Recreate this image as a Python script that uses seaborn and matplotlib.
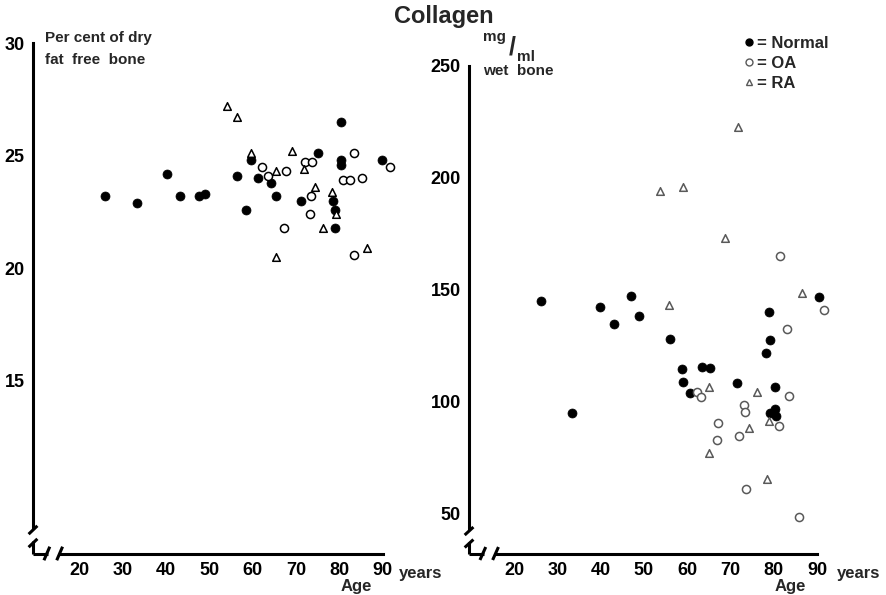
import numpy as np
import pandas as pd
import seaborn as sns
import matplotlib.pyplot as plt
from matplotlib.lines import Line2D

sns.set_style("white")
plt.rcParams['font.family'] = ['Liberation Sans', 'DejaVu Sans']
plt.rcParams['font.weight'] = 'bold'

# left panel - per cent of dry fat free bone
normal_age_l = [26, 33.4, 40.3, 43.3, 47.7, 49.0, 56.4, 58.5, 59.6, 61.2, 64.2,
                65.4, 71.2, 75.1, 78.5, 79.0, 79.0, 80.4, 80.4, 80.4, 89.8]
normal_val_l = [23.2, 22.9, 24.2, 23.2, 23.2, 23.3, 24.1, 22.6, 24.8, 24.0, 23.8,
                23.2, 23.0, 25.1, 23.0, 22.6, 21.8, 26.5, 24.8, 24.6, 24.8]
oa_age_l = [62.2, 63.5, 67.7, 67.2, 72.1, 73.7, 73.5, 73.2, 80.8, 82.4, 85.2, 83.4, 91.7, 83.4]
oa_val_l = [24.5, 24.1, 24.3, 21.8, 24.7, 24.7, 23.2, 22.4, 23.9, 23.9, 24.0, 25.1, 24.5, 20.6]
ra_age_l = [54.1, 56.4, 59.6, 65.4, 69.1, 71.8, 74.4, 78.3, 79.2, 76.2, 65.4, 86.4]
ra_val_l = [27.2, 26.7, 25.1, 24.3, 25.2, 24.4, 23.6, 23.4, 22.4, 21.8, 20.5, 20.9]

# right panel - mg/ml wet bone
normal_age_r = [26.2, 33.4, 39.9, 43.1, 47.0, 48.9, 56.0, 58.8, 59.0, 60.6, 63.4,
                65.3, 71.5, 78.2, 78.9, 79.1, 79.1, 80.3, 80.3, 80.5, 90.4]
normal_val_r = [145, 95, 142.5, 135, 147.5, 138.5, 128, 114.5, 109, 104, 115.5,
                115, 108.5, 122, 140, 127.5, 95, 106.5, 97, 93.5, 147]
oa_age_r = [62.3, 63.2, 73.1, 73.3, 67.1, 66.9, 72.0, 81.2, 83.5, 83.0, 91.6, 73.6, 81.4, 85.8]
oa_val_r = [104.5, 102.2, 98.7, 95.5, 90.6, 83.0, 84.8, 89.3, 102.7, 132.6, 141.1, 61.2, 165.2, 48.7]
ra_age_r = [71.7, 53.7, 59.0, 68.7, 55.8, 86.5, 65.0, 76.1, 74.3, 65.0, 78.4, 78.9]
ra_val_r = [222.8, 194.2, 196.0, 173.2, 143.3, 148.7, 106.7, 104.5, 88.4, 77.2, 65.6, 91.5]

x_ticks = [20, 30, 40, 50, 60, 70, 80, 90]
y_ticks_l = [15, 20, 25, 30]
y_ticks_r = [50, 100, 150, 200, 250]


def make_df(na, nv, oa, ov, ra, rv):
    rows = []
    for g, a, v in [("Normal", na, nv), ("OA", oa, ov), ("RA", ra, rv)]:
        for ai, vi in zip(a, v):
            rows.append({"Age": ai, "Value": vi, "Group": g})
    return pd.DataFrame(rows)


left = make_df(normal_age_l, normal_val_l, oa_age_l, oa_val_l, ra_age_l, ra_val_l)
right = make_df(normal_age_r, normal_val_r, oa_age_r, oa_val_r, ra_age_r, ra_val_r)

fig = plt.figure(figsize=(8.87, 5.95), dpi=100)
ax1 = fig.add_axes([0.0372, 0.0689, 0.4115, 0.8777])
ax2 = fig.add_axes([0.5288, 0.0689, 0.4093, 0.8390])


def draw(ax, df, open_col):
    sns.scatterplot(data=df[df.Group == "Normal"], x="Age", y="Value", ax=ax,
                    marker="o", s=42, color="black", edgecolor="black", linewidth=0.5)
    sns.scatterplot(data=df[df.Group == "OA"], x="Age", y="Value", ax=ax,
                    marker="o", s=34, color="white", edgecolor=open_col, linewidth=1.1)
    sns.scatterplot(data=df[df.Group == "RA"], x="Age", y="Value", ax=ax,
                    marker="^", s=30, color="white", edgecolor=open_col, linewidth=1.1)
    ax.set_xlabel("")
    ax.set_ylabel("")


def axis_style(ax, xlim, ylim, yticks, ytop):
    ax.set_xlim(*xlim)
    ax.set_ylim(*ylim)
    ax.set_xticks(x_ticks)
    ax.set_yticks(yticks)
    for s in ["top", "right"]:
        ax.spines[s].set_visible(False)
    y0, y1 = ylim
    x0, x1 = xlim
    ygap = (y0 + 0.025 * (y1 - y0), y0 + 0.05 * (y1 - y0))
    xgap = (x0 + 0.04 * (x1 - x0), x0 + 0.075 * (x1 - x0))
    ax.spines["left"].set_bounds(ygap[1], ytop)
    ax.spines["bottom"].set_bounds(xgap[1], 90)
    for s in ["left", "bottom"]:
        ax.spines[s].set_linewidth(2.2)
        ax.spines[s].set_color("black")
    kw = dict(color="black", lw=2.2, clip_on=False, solid_capstyle="butt")
    ax.plot([x0, x0], [y0, ygap[0]], **kw)
    ax.plot([x0, xgap[0]], [y0, y0], **kw)
    t = ax.transAxes
    for g in (0.025, 0.05):
        ax.plot([-0.012, 0.012], [g - 0.012, g + 0.004], transform=t, **kw)
    for g in (0.04, 0.075):
        ax.plot([g - 0.01, g + 0.006], [-0.012, 0.014], transform=t, **kw)
    ax.tick_params(direction="in", length=4, width=2, labelsize=13, pad=6,
                   colors="black")
    for lab in ax.get_xticklabels() + ax.get_yticklabels():
        lab.set_fontweight("bold")


draw(ax1, left, "black")
draw(ax2, right, "0.35")
axis_style(ax1, (9.4, 93.5), (7.3, 30.5), y_ticks_l, 30)
axis_style(ax2, (9.6, 93.5), (32.1, 255), y_ticks_r, 250)

fig.text(0.5, 0.973, "Collagen", ha="center", va="center", fontsize=17, fontweight="bold")
fig.text(0.051, 0.936, "Per cent of dry", ha="left", va="center", fontsize=11, fontweight="bold")
fig.text(0.051, 0.899, "fat  free  bone", ha="left", va="center", fontsize=11, fontweight="bold")

fig.text(0.545, 0.937, "mg", ha="left", va="center", fontsize=11, fontweight="bold")
fig.text(0.573, 0.921, "/", ha="left", va="center", fontsize=18, fontweight="bold")
fig.text(0.583, 0.905, "ml", ha="left", va="center", fontsize=11, fontweight="bold")
fig.text(0.545, 0.880, "wet  bone", ha="left", va="center", fontsize=11, fontweight="bold")

for xl, xa in [(0.45, 0.402), (0.944, 0.891)]:
    fig.text(xl, 0.036, "years", ha="left", va="center", fontsize=12, fontweight="bold")
    fig.text(xa, 0.015, "Age", ha="center", va="center", fontsize=12, fontweight="bold")

handles = [
    Line2D([], [], marker="o", ls="", color="black", markersize=5),
    Line2D([], [], marker="o", ls="", markerfacecolor="white", markeredgecolor="0.35", markersize=5),
    Line2D([], [], marker="^", ls="", markerfacecolor="white", markeredgecolor="0.35", markersize=5),
]
leg = fig.legend(handles, ["= Normal", "= OA", "= RA"], loc="upper left",
                 bbox_to_anchor=(0.822, 0.965), frameon=False, handlelength=0.6,
                 handletextpad=0.2, labelspacing=0.3,
                 prop={"weight": "bold", "size": 12})

fig.savefig("out.png", dpi=100)
